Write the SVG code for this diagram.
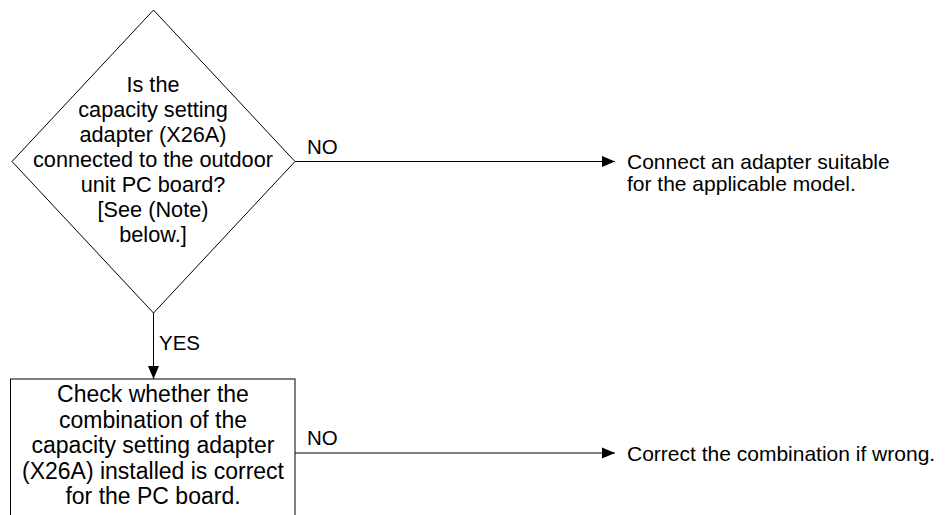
<svg xmlns="http://www.w3.org/2000/svg" width="948" height="515" viewBox="0 0 948 515">
  <style>
    .shape { fill: #ffffff; stroke: #000000; stroke-width: 1; }
    .link { fill: none; stroke: #000000; stroke-width: 1; }
    text { font-family: "Liberation Sans", Arial, sans-serif; fill: #000000; }
    .node-text { font-size: 21.7px; text-anchor: middle; }
    .box-text { font-size: 23px; text-anchor: middle; }
    .label { font-size: 20.5px; }
    .result { font-size: 21px; }
  </style>
  <defs>
    <marker id="arrow" markerUnits="userSpaceOnUse" markerWidth="14" markerHeight="12" refX="13" refY="6" orient="auto">
      <path d="M0,0.5 L13,6 L0,11.5 Z" fill="#000000"/>
    </marker>
  </defs>

  <!-- decision: adapter connected? -->
  <g id="decision-adapter">
    <polygon class="shape" points="153.5,10 295,161.5 153.5,313 12,161.5"/>
    <text class="node-text" x="153" y="91.5">Is the</text>
    <text class="node-text" x="153" y="116.5">capacity setting</text>
    <text class="node-text" x="153" y="141.5">adapter (X26A)</text>
    <text class="node-text" x="153" y="166.5">connected to the outdoor</text>
    <text class="node-text" x="153" y="191.5">unit PC board?</text>
    <text class="node-text" x="153" y="216.5">[See (Note)</text>
    <text class="node-text" x="153" y="241.5">below.]</text>
  </g>

  <!-- check combination step -->
  <g id="check-combination">
    <rect class="shape" x="10.5" y="379" width="284.5" height="150"/>
    <text class="box-text" x="153" y="402">Check whether the</text>
    <text class="box-text" x="153" y="427.5">combination of the</text>
    <text class="box-text" x="153" y="453">capacity setting adapter</text>
    <text class="box-text" x="153" y="478.5">(X26A) installed is correct</text>
    <text class="box-text" x="153" y="504">for the PC board.</text>
  </g>

  <!-- outcomes -->
  <g id="connect-adapter">
    <text class="result" x="627" y="169">Connect an adapter suitable</text>
    <text class="result" x="627" y="191">for the applicable model.</text>
  </g>
  <g id="correct-combination">
    <text class="result" x="627" y="460.5">Correct the combination if wrong.</text>
  </g>

  <!-- connectors -->
  <g id="connectors">
    <line class="link" x1="295" y1="161.5" x2="615" y2="161.5" marker-end="url(#arrow)"/>
    <text class="label" x="307" y="154">NO</text>
    <line class="link" x1="153.5" y1="313" x2="153.5" y2="379" marker-end="url(#arrow)"/>
    <text class="label" x="159" y="350">YES</text>
    <line class="link" x1="295" y1="453" x2="615" y2="453" marker-end="url(#arrow)"/>
    <text class="label" x="307" y="445">NO</text>
  </g>
</svg>
